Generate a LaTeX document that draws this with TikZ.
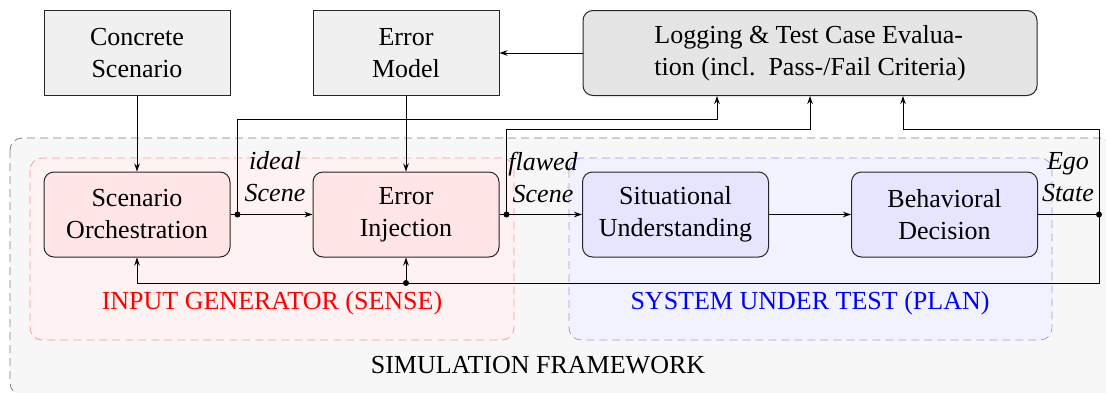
\documentclass[tikz,border=0pt]{standalone}
\usepackage{fontspec}
\setmainfont{Liberation Serif}
\usetikzlibrary{arrows.meta,calc}
\begin{document}
\begin{tikzpicture}[x=1pt,y=-1pt,
  font=\fontsize{26}{32}\selectfont,
  box/.style={draw=black!85, line width=1pt, minimum width=186pt,
    minimum height=85pt, align=center, inner sep=0pt},
  topbox/.style={box, fill=gray!12},
  roundbox/.style={box, rounded corners=10pt},
  sensebox/.style={roundbox, fill=red!10},
  planbox/.style={roundbox, fill=blue!10},
  flow/.style={line width=1pt, -{Stealth[length=8pt,width=5.5pt]}},
  link/.style={line width=1pt},
  dot/.style={circle, fill=black, inner sep=0pt, minimum size=6pt},
  lbl/.style={font=\fontsize{26}{32}\selectfont\itshape, align=center, inner sep=0pt},
  region/.style={dash pattern=on 8pt off 5pt, line width=0.8pt, rounded corners=12pt}]

\useasboundingbox (0,0) rectangle (1106,392);

% framework and the two subsystems
\draw[region, draw=black!50, fill=black!3] (10,138) rectangle (1112,395);
\draw[region, draw=red!40, fill=red!5] (30,158) rectangle (514,340);
\draw[region, draw=blue!40, fill=blue!5] (569,158) rectangle (1052,340);

% inputs and evaluation
\node[topbox] (cs) at (137,53) {Concrete\\Scenario};
\node[topbox] (em) at (406,53) {Error\\Model};
\node[roundbox, fill=gray!20, minimum width=454pt, align=left] (log) at (810,53)
  {Logging \& Test Case Evalua-\\tion (incl.\ \ Pass-/Fail Criteria)};

% processing chain
\node[sensebox] (so) at (137,214.5) {Scenario\\Orchestration};
\node[sensebox] (ei) at (406,214.5) {Error\\Injection};
\node[planbox] (su) at (675.5,214.5) {Situational\\Understanding};
\node[planbox] (bd) at (944.5,214.5) {Behavioral\\Decision};

% branch points and routing rows
\coordinate (d1) at ($(so.east)+(7,0)$);
\coordinate (d2) at ($(ei.east)+(7,0)$);
\coordinate (d3) at (1099,214.5);
\coordinate (l1) at ($(log.south)+(-93,0)$);
\coordinate (l2) at (log.south);
\coordinate (l3) at ($(log.south)+(93,0)$);
\coordinate (r1) at (0,119);
\coordinate (r2) at (0,129);
\coordinate (r3) at (0,283);
\coordinate (d4) at (ei.south |- r3);

% connectors
\draw[flow] (cs) -- (so);
\draw[flow] (em) -- (ei);
\draw[flow] (log.west) -- (em.east);
\draw[flow] (so.east) -- (ei.west);
\draw[flow] (ei.east) -- (su.west);
\draw[flow] (su) -- (bd);
\draw[link] (bd.east) -- (d3);
\draw[flow] (d1) |- (l1 |- r1) -- (l1);
\draw[flow] (d2) |- (l2 |- r2) -- (l2);
\draw[flow] (d3) |- (l3 |- r2) -- (l3);
\draw[flow] (d3) |- (so.south |- r3) -- (so.south);
\draw[flow] (d4) -- (ei.south);
\foreach \p in {d1,d2,d3,d4} \node[dot] at (\p) {};

% signal labels
\node[lbl] (ideal) at (275,177) {ideal\\Scene};
\node[lbl] (flawed) at (543,177) {flawed\\Scene};
\node[lbl] (ego) at (1068,177) {Ego\\State};

% region titles
\node[text=red] (sense) at (272,303) {INPUT GENERATOR (SENSE)};
\node[text=blue] (plan) at (810,303) {SYSTEM UNDER TEST (PLAN)};
\node (sim) at (538,365) {SIMULATION FRAMEWORK};
\end{tikzpicture}
\end{document}
